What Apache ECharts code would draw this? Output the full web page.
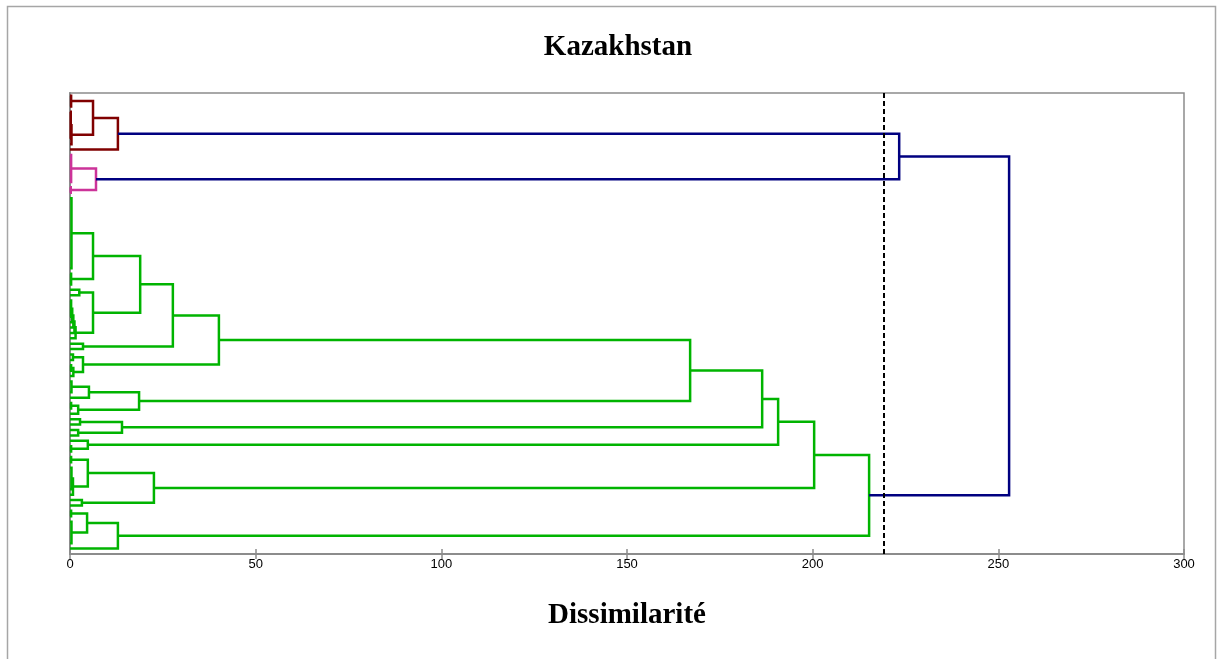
<!DOCTYPE html>
<html>
<head>
<meta charset="utf-8">
<script src="https://cdn.jsdelivr.net/npm/echarts@6/dist/echarts.min.js"></script>
<style>html,body{margin:0;padding:0;background:#fff}#c{width:1223px;height:659px}</style>
</head>
<body>
<div id="c"></div>
<script>
// ---- data ----
const chartTitle = 'Kazakhstan';
const axisTitle = 'Dissimilarité';
const xTicks = [0, 50, 100, 150, 200, 250, 300];
const nLeaves = 85;
const cutLevel = 219.2;
// near-zero clusters of leaves: [firstLeaf, lastLeaf, height]
const leafGroups = [
  [0,2,0.3],[3,8,0.2],[11,16,0.3],[17,18,0.2],[19,32,0.4],[33,35,0.3],
  [38,41,0.3],[48,49,0.8],[50,51,0.3],[53,55,0.4],[57,58,0.3],[65,66,0.3],
  [67,68,0.3],[69,73,0.4],[77,78,0.3],[79,83,0.4]
];
// agglomeration steps: [childA, childB, height]  (l = leaf, g = group, m = merge)
const merges = [
  ['g1','l9',0.4], ['g0','m0',6.2], ['m1','l10',12.9], ['g2','g3',7.0],
  ['m2','m3',223.3], ['g4','g5',6.2], ['l36','l37',2.5], ['g6','l42',0.6],
  ['m7','l43',0.9], ['m8','l44',1.2], ['m9','l45',1.5], ['m6','m10',6.2],
  ['m5','m11',18.9], ['l46','l47',3.5], ['m12','m13',27.7], ['g8','l52',0.9],
  ['g7','m15',3.5], ['m14','m16',40.1], ['g9','l56',5.1], ['g10','l59',2.2],
  ['m18','m19',18.6], ['m17','m20',167.0], ['l60','l61',2.7], ['l62','l63',2.2],
  ['m22','m23',14.0], ['m21','m24',186.4], ['l64','g11',4.8], ['m25','m26',190.7],
  ['g13','l74',0.8], ['g12','m28',4.8], ['l75','l76',3.2], ['m29','m30',22.6],
  ['m27','m31',200.4], ['g14','g15',4.6], ['m33','l84',12.9], ['m32','m34',215.2],
  ['m4','m35',252.9]
];
const classColors = ['#800000', '#cc3399', '#00b400'];
const upperColor = '#000080';

// ---- tree geometry ----
function height(ref) {
  const t = ref[0], i = +ref.slice(1);
  if (t === 'l') return 0;
  if (t === 'g') return leafGroups[i][2];
  return merges[i][2];
}
const centerCache = {};
function center(ref) {
  if (ref in centerCache) return centerCache[ref];
  const t = ref[0], i = +ref.slice(1);
  let c;
  if (t === 'l') c = i;
  else if (t === 'g') c = (leafGroups[i][0] + leafGroups[i][1]) / 2;
  else c = (center(merges[i][0]) + center(merges[i][1])) / 2;
  return (centerCache[ref] = c);
}
const colorOf = {};
let classIdx = 0;
function assign(ref, inherited) {
  const t = ref[0], i = +ref.slice(1);
  let col = inherited;
  if (col == null) {
    if (t === 'm' && merges[i][2] > cutLevel) col = null;
    else col = classColors[classIdx++];
  }
  colorOf[ref] = col == null ? upperColor : col;
  if (t === 'm') {
    assign(merges[i][0], col);
    assign(merges[i][1], col);
  }
}
assign('m' + (merges.length - 1), null);

const segs = [];
leafGroups.forEach((g, i) => {
  segs.push({coords: [[0, g[0]], [g[2], g[0]], [g[2], g[1]], [0, g[1]]],
             lineStyle: {color: colorOf['g' + i]}});
});
merges.forEach((m, i) => {
  const a = m[0], b = m[1], h = m[2];
  segs.push({coords: [[height(a), center(a)], [h, center(a)], [h, center(b)], [height(b), center(b)]],
             lineStyle: {color: colorOf['m' + i]}});
});

const yMin = -0.5, yMax = nLeaves;
const chart = echarts.init(document.getElementById('c'));
chart.setOption({
  animation: false,
  backgroundColor: '#fff',
  title: {
    text: chartTitle, left: 613, top: 28, textAlign: 'center',
    textStyle: {fontFamily: 'Liberation Serif', fontWeight: 'bold', fontSize: 29, color: '#000'}
  },
  graphic: [{
    type: 'rect', shape: {x: 7.5, y: 6.5, width: 1208, height: 700},
    style: {fill: 'none', stroke: '#a6a6a6', lineWidth: 1.5}, silent: true, z: -1
  }, {
    type: 'text', x: 627, y: 616,
    style: {text: axisTitle, font: 'bold 29px "Liberation Serif"', fill: '#000',
            textAlign: 'center', textVerticalAlign: 'middle'}
  }],
  grid: {left: 70, right: 39, top: 93, bottom: 105, show: true, borderColor: '#8c8c8c', borderWidth: 1.5, backgroundColor: 'transparent'},
  xAxis: [{
    type: 'value', min: xTicks[0], max: xTicks[xTicks.length - 1], interval: 50, position: 'bottom',
    axisLine: {show: true, onZero: false, lineStyle: {color: '#8c8c8c', width: 2}},
    axisTick: {show: true, length: 5, lineStyle: {color: '#8c8c8c', width: 1.5}},
    axisLabel: {color: '#000', fontFamily: 'Liberation Sans', fontSize: 13, margin: 4},
    splitLine: {show: false}
  }, {
    type: 'value', min: xTicks[0], max: xTicks[xTicks.length - 1], interval: 50, position: 'bottom',
    axisLine: {show: false, onZero: false},
    axisTick: {show: true, inside: true, length: 5, lineStyle: {color: '#8c8c8c', width: 1.5}},
    axisLabel: {show: false}, splitLine: {show: false}
  }],
  yAxis: {
    type: 'value', inverse: true, min: yMin, max: yMax,
    axisLine: {show: true, onZero: false, lineStyle: {color: '#8c8c8c', width: 2}},
    axisTick: {show: false}, axisLabel: {show: false}, splitLine: {show: false}
  },
  series: [{
    type: 'lines', coordinateSystem: 'cartesian2d', polyline: true,
    lineStyle: {width: 2.5, opacity: 1},
    data: segs, z: 3
  }, {
    type: 'lines', coordinateSystem: 'cartesian2d',
    lineStyle: {width: 2, type: [5, 3], color: '#000', opacity: 1},
    data: [{coords: [[cutLevel, yMin], [cutLevel, yMax]]}], z: 4
  }]
});
</script>
</body>
</html>
